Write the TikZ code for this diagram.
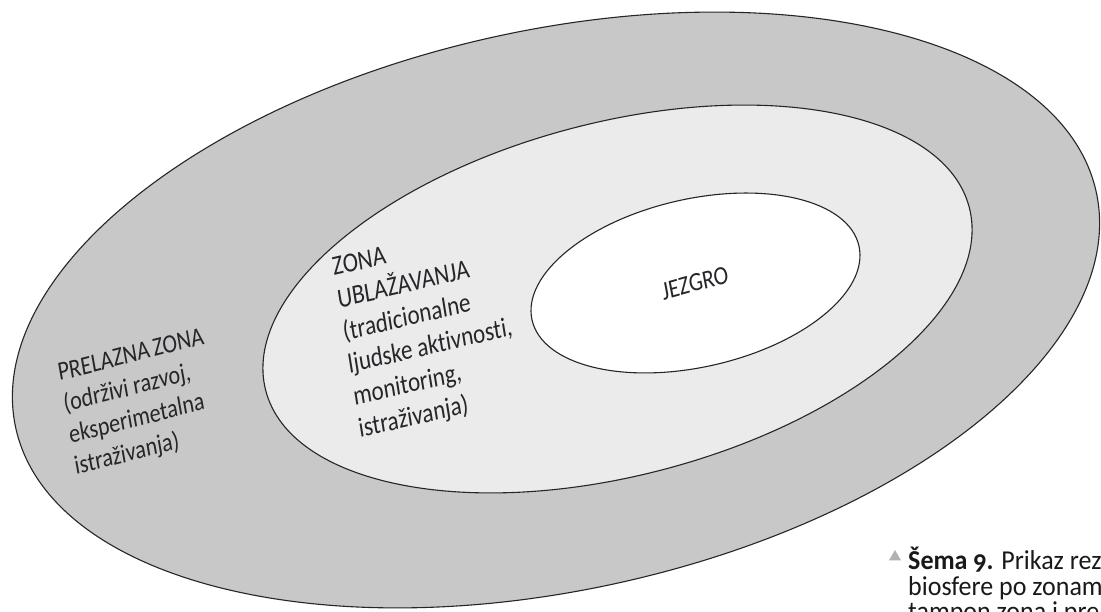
\documentclass[tikz,border=0pt]{standalone}
\usepackage{fontspec}
\setmainfont{Carlito}[Ligatures=NoCommon]
\newfontfamily\capfont[Numbers=OldStyle, Ligatures=NoCommon]{Carlito}
\usetikzlibrary{shapes.geometric}
\definecolor{outerzone}{RGB}{200,200,200}
\definecolor{middlezone}{RGB}{235,235,235}
\definecolor{labelgray}{RGB}{38,38,42}
\tikzset{
  zoneline/.style={draw=black!85, line width=1.1pt},
  zonetext/.style={align=left, inner sep=0pt, anchor=base west, text=labelgray, yscale=1.2, transform shape},
  captext/.style={align=left, inner sep=0pt, anchor=base west, text=black!90, yscale=1.05, transform shape, font=\capfont\fontsize{26}{24.3}\selectfont}
}
\begin{document}
\begin{tikzpicture}[x=1pt, y=1pt]
    \useasboundingbox (0,0) rectangle (1101,612);
    \clip (0,0) rectangle (1101,612);
    \fill[white] (0,0) rectangle (1101,612);

    % zones
    \draw[zoneline, fill=outerzone, rotate around={12.3:(556,302)}] (556,302) ellipse (553pt and 280pt);
    \draw[zoneline, fill=middlezone, rotate around={14.6:(617.5,313)}] (617.5,313) ellipse (363.5pt and 176.6pt);
    \draw[zoneline, fill=white, rotate around={12.8:(695.5,329)}] (695.5,329) ellipse (167.6pt and 84pt);

    % base anchor sits on the last line
    \node[zonetext, rotate=12, font=\fontsize{22}{26.7}\selectfont] (prelazna) at (76,137) {PRELAZNA\,ZONA\\(održivi razvoj,\\eksperimetalna\\istraživanja)};
    \node[zonetext, rotate=11, font=\fontsize{23}{27.5}\selectfont] (ublazavanje) at (360,174) {ZONA\\UBLAŽAVANJA\\(tradicionalne\\ljudske aktivnosti,\\monitoring,\\istraživanja)};
    \node[zonetext, anchor=center, rotate=13, font=\fontsize{22}{26}\selectfont] (jezgro) at (695,329) {JEZGRO};

    % caption
    \node[regular polygon, regular polygon sides=3, fill=black!30, inner sep=0pt, minimum size=14pt] (capmark) at (895,55) {};
    \node[captext] (caption) at (908,-9) {\textbf{Šema 9.} Prikaz rezervata\\biosfere po zonama:\\tampon zona i prelazna zona};
\end{tikzpicture}
\end{document}
